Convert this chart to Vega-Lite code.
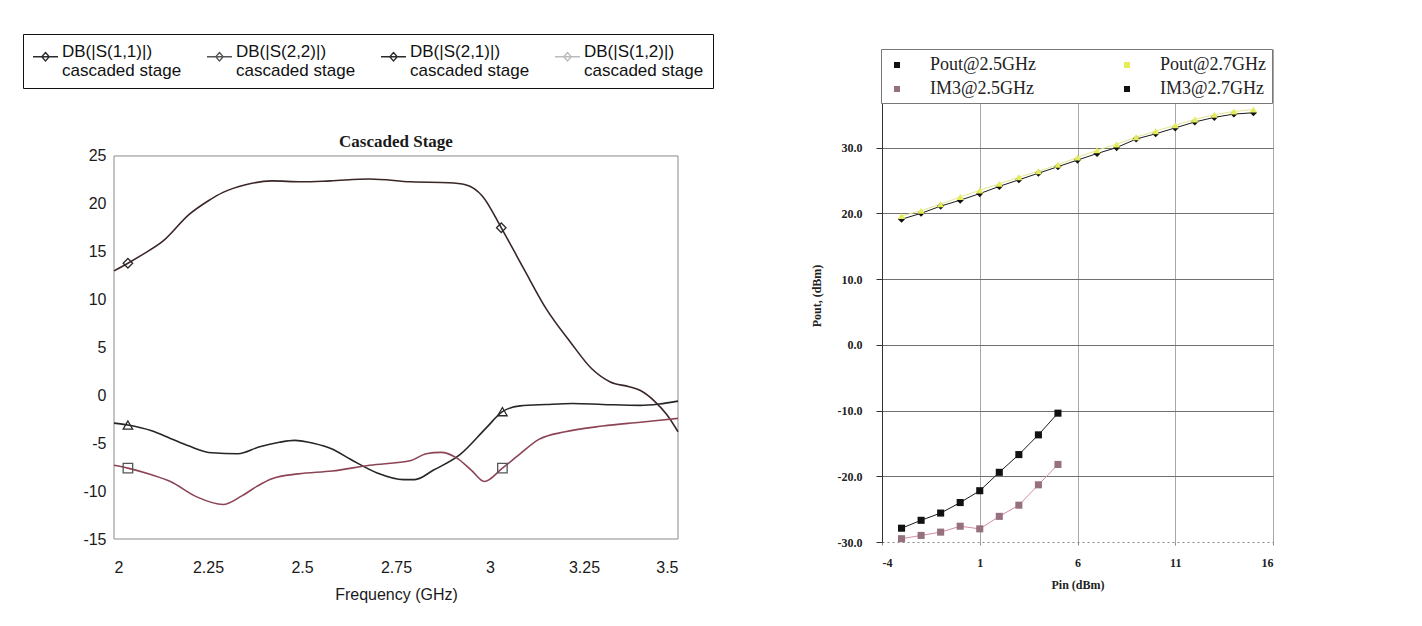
{
  "$schema": "https://vega.github.io/schema/vega-lite/v6.json",
  "background": "white",
  "padding": {"left": 22, "top": 33, "right": 5, "bottom": 5},
  "spacing": 128,
  "resolve": {
    "scale": {"color": "independent", "shape": "independent"}
  },
  "config": {
    "locale": {"number": {"decimal": ".", "thousands": ",", "grouping": [3], "currency": ["$", ""], "minus": "-"}},
    "view": {"stroke": null}
  },
  "datasets": {
    "frame": [
      {"f": 2, "f2": 3.5, "db": -15, "db2": 25}
    ],
    "sparams": [
      {"series": "DB(|S(2,1)|)", "f": 2.0, "db": 13.0},
      {"series": "DB(|S(2,1)|)", "f": 2.037, "db": 13.8},
      {"series": "DB(|S(2,1)|)", "f": 2.08, "db": 14.8},
      {"series": "DB(|S(2,1)|)", "f": 2.13, "db": 16.1},
      {"series": "DB(|S(2,1)|)", "f": 2.2, "db": 18.9},
      {"series": "DB(|S(2,1)|)", "f": 2.25, "db": 20.3},
      {"series": "DB(|S(2,1)|)", "f": 2.29, "db": 21.2},
      {"series": "DB(|S(2,1)|)", "f": 2.35, "db": 22.0},
      {"series": "DB(|S(2,1)|)", "f": 2.42, "db": 22.4},
      {"series": "DB(|S(2,1)|)", "f": 2.5, "db": 22.3},
      {"series": "DB(|S(2,1)|)", "f": 2.575, "db": 22.4},
      {"series": "DB(|S(2,1)|)", "f": 2.68, "db": 22.6},
      {"series": "DB(|S(2,1)|)", "f": 2.79, "db": 22.3},
      {"series": "DB(|S(2,1)|)", "f": 2.89, "db": 22.2},
      {"series": "DB(|S(2,1)|)", "f": 2.935, "db": 22.0},
      {"series": "DB(|S(2,1)|)", "f": 2.98, "db": 20.8},
      {"series": "DB(|S(2,1)|)", "f": 3.03, "db": 17.5},
      {"series": "DB(|S(2,1)|)", "f": 3.09, "db": 13.2},
      {"series": "DB(|S(2,1)|)", "f": 3.15, "db": 9.0},
      {"series": "DB(|S(2,1)|)", "f": 3.215, "db": 5.5},
      {"series": "DB(|S(2,1)|)", "f": 3.27, "db": 2.8},
      {"series": "DB(|S(2,1)|)", "f": 3.32, "db": 1.4},
      {"series": "DB(|S(2,1)|)", "f": 3.37, "db": 0.9},
      {"series": "DB(|S(2,1)|)", "f": 3.4, "db": 0.5},
      {"series": "DB(|S(2,1)|)", "f": 3.44, "db": -0.7},
      {"series": "DB(|S(2,1)|)", "f": 3.47, "db": -2.0},
      {"series": "DB(|S(2,1)|)", "f": 3.5, "db": -3.8},
      {"series": "DB(|S(1,1)|)", "f": 2.0, "db": -2.9},
      {"series": "DB(|S(1,1)|)", "f": 2.037, "db": -3.1},
      {"series": "DB(|S(1,1)|)", "f": 2.1, "db": -3.7},
      {"series": "DB(|S(1,1)|)", "f": 2.15, "db": -4.5},
      {"series": "DB(|S(1,1)|)", "f": 2.2, "db": -5.3},
      {"series": "DB(|S(1,1)|)", "f": 2.26, "db": -6.0},
      {"series": "DB(|S(1,1)|)", "f": 2.33, "db": -6.1},
      {"series": "DB(|S(1,1)|)", "f": 2.385, "db": -5.4},
      {"series": "DB(|S(1,1)|)", "f": 2.44, "db": -4.9},
      {"series": "DB(|S(1,1)|)", "f": 2.48, "db": -4.7},
      {"series": "DB(|S(1,1)|)", "f": 2.53, "db": -5.0},
      {"series": "DB(|S(1,1)|)", "f": 2.58, "db": -5.6},
      {"series": "DB(|S(1,1)|)", "f": 2.63, "db": -6.7},
      {"series": "DB(|S(1,1)|)", "f": 2.7, "db": -8.1},
      {"series": "DB(|S(1,1)|)", "f": 2.77, "db": -8.8},
      {"series": "DB(|S(1,1)|)", "f": 2.8, "db": -8.8},
      {"series": "DB(|S(1,1)|)", "f": 2.85, "db": -7.8},
      {"series": "DB(|S(1,1)|)", "f": 2.92, "db": -6.2},
      {"series": "DB(|S(1,1)|)", "f": 2.99, "db": -3.4},
      {"series": "DB(|S(1,1)|)", "f": 3.033, "db": -1.7},
      {"series": "DB(|S(1,1)|)", "f": 3.08, "db": -1.1},
      {"series": "DB(|S(1,1)|)", "f": 3.15, "db": -0.95},
      {"series": "DB(|S(1,1)|)", "f": 3.22, "db": -0.85},
      {"series": "DB(|S(1,1)|)", "f": 3.3, "db": -0.95},
      {"series": "DB(|S(1,1)|)", "f": 3.4, "db": -1.05},
      {"series": "DB(|S(1,1)|)", "f": 3.45, "db": -0.9},
      {"series": "DB(|S(1,1)|)", "f": 3.5, "db": -0.6},
      {"series": "DB(|S(2,2)|)", "f": 2.0, "db": -7.3},
      {"series": "DB(|S(2,2)|)", "f": 2.037, "db": -7.6},
      {"series": "DB(|S(2,2)|)", "f": 2.1, "db": -8.3},
      {"series": "DB(|S(2,2)|)", "f": 2.15, "db": -9.0},
      {"series": "DB(|S(2,2)|)", "f": 2.22, "db": -10.6},
      {"series": "DB(|S(2,2)|)", "f": 2.29, "db": -11.4},
      {"series": "DB(|S(2,2)|)", "f": 2.34, "db": -10.5},
      {"series": "DB(|S(2,2)|)", "f": 2.38, "db": -9.5},
      {"series": "DB(|S(2,2)|)", "f": 2.42, "db": -8.7},
      {"series": "DB(|S(2,2)|)", "f": 2.49, "db": -8.2},
      {"series": "DB(|S(2,2)|)", "f": 2.58, "db": -7.9},
      {"series": "DB(|S(2,2)|)", "f": 2.68, "db": -7.3},
      {"series": "DB(|S(2,2)|)", "f": 2.79, "db": -6.8},
      {"series": "DB(|S(2,2)|)", "f": 2.83, "db": -6.1},
      {"series": "DB(|S(2,2)|)", "f": 2.87, "db": -5.95},
      {"series": "DB(|S(2,2)|)", "f": 2.91, "db": -6.5},
      {"series": "DB(|S(2,2)|)", "f": 2.95, "db": -7.8},
      {"series": "DB(|S(2,2)|)", "f": 2.985, "db": -9.0},
      {"series": "DB(|S(2,2)|)", "f": 3.033, "db": -7.6},
      {"series": "DB(|S(2,2)|)", "f": 3.08, "db": -6.1},
      {"series": "DB(|S(2,2)|)", "f": 3.13, "db": -4.6},
      {"series": "DB(|S(2,2)|)", "f": 3.2, "db": -3.8},
      {"series": "DB(|S(2,2)|)", "f": 3.3, "db": -3.2},
      {"series": "DB(|S(2,2)|)", "f": 3.4, "db": -2.8},
      {"series": "DB(|S(2,2)|)", "f": 3.5, "db": -2.4}
    ],
    "smarkers": [
      {"series": "DB(|S(1,1)|)", "f": 2.037, "db": -3.1},
      {"series": "DB(|S(1,1)|)", "f": 3.033, "db": -1.7},
      {"series": "DB(|S(2,2)|)", "f": 2.037, "db": -7.6},
      {"series": "DB(|S(2,2)|)", "f": 3.033, "db": -7.6},
      {"series": "DB(|S(2,1)|)", "f": 2.037, "db": 13.8},
      {"series": "DB(|S(2,1)|)", "f": 3.03, "db": 17.5}
    ],
    "power": [
      {"series": "Pout@2.5GHz", "pin": -3, "pout": 19.1},
      {"series": "Pout@2.5GHz", "pin": -2, "pout": 20.0},
      {"series": "Pout@2.5GHz", "pin": -1, "pout": 21.1},
      {"series": "Pout@2.5GHz", "pin": 0, "pout": 22.0},
      {"series": "Pout@2.5GHz", "pin": 1, "pout": 23.0},
      {"series": "Pout@2.5GHz", "pin": 2, "pout": 24.1},
      {"series": "Pout@2.5GHz", "pin": 3, "pout": 25.1},
      {"series": "Pout@2.5GHz", "pin": 4, "pout": 26.1},
      {"series": "Pout@2.5GHz", "pin": 5, "pout": 27.1},
      {"series": "Pout@2.5GHz", "pin": 6, "pout": 28.1},
      {"series": "Pout@2.5GHz", "pin": 7, "pout": 29.1},
      {"series": "Pout@2.5GHz", "pin": 8, "pout": 30.0},
      {"series": "Pout@2.5GHz", "pin": 9, "pout": 31.3},
      {"series": "Pout@2.5GHz", "pin": 10, "pout": 32.1},
      {"series": "Pout@2.5GHz", "pin": 11, "pout": 33.0},
      {"series": "Pout@2.5GHz", "pin": 12, "pout": 33.9},
      {"series": "Pout@2.5GHz", "pin": 13, "pout": 34.6},
      {"series": "Pout@2.5GHz", "pin": 14, "pout": 35.1},
      {"series": "Pout@2.5GHz", "pin": 15, "pout": 35.3},
      {"series": "Pout@2.7GHz", "pin": -3, "pout": 19.6},
      {"series": "Pout@2.7GHz", "pin": -2, "pout": 20.4},
      {"series": "Pout@2.7GHz", "pin": -1, "pout": 21.4},
      {"series": "Pout@2.7GHz", "pin": 0, "pout": 22.5},
      {"series": "Pout@2.7GHz", "pin": 1, "pout": 23.5},
      {"series": "Pout@2.7GHz", "pin": 2, "pout": 24.5},
      {"series": "Pout@2.7GHz", "pin": 3, "pout": 25.5},
      {"series": "Pout@2.7GHz", "pin": 4, "pout": 26.4},
      {"series": "Pout@2.7GHz", "pin": 5, "pout": 27.4},
      {"series": "Pout@2.7GHz", "pin": 6, "pout": 28.5},
      {"series": "Pout@2.7GHz", "pin": 7, "pout": 29.6},
      {"series": "Pout@2.7GHz", "pin": 8, "pout": 30.5},
      {"series": "Pout@2.7GHz", "pin": 9, "pout": 31.6},
      {"series": "Pout@2.7GHz", "pin": 10, "pout": 32.5},
      {"series": "Pout@2.7GHz", "pin": 11, "pout": 33.4},
      {"series": "Pout@2.7GHz", "pin": 12, "pout": 34.3},
      {"series": "Pout@2.7GHz", "pin": 13, "pout": 35.0},
      {"series": "Pout@2.7GHz", "pin": 14, "pout": 35.5},
      {"series": "Pout@2.7GHz", "pin": 15, "pout": 35.8},
      {"series": "IM3@2.5GHz", "pin": -3, "pout": -29.5},
      {"series": "IM3@2.5GHz", "pin": -2, "pout": -29.0},
      {"series": "IM3@2.5GHz", "pin": -1, "pout": -28.5},
      {"series": "IM3@2.5GHz", "pin": 0, "pout": -27.6},
      {"series": "IM3@2.5GHz", "pin": 1, "pout": -28.0},
      {"series": "IM3@2.5GHz", "pin": 2, "pout": -26.1},
      {"series": "IM3@2.5GHz", "pin": 3, "pout": -24.4},
      {"series": "IM3@2.5GHz", "pin": 4, "pout": -21.3},
      {"series": "IM3@2.5GHz", "pin": 5, "pout": -18.2},
      {"series": "IM3@2.7GHz", "pin": -3, "pout": -27.9},
      {"series": "IM3@2.7GHz", "pin": -2, "pout": -26.7},
      {"series": "IM3@2.7GHz", "pin": -1, "pout": -25.6},
      {"series": "IM3@2.7GHz", "pin": 0, "pout": -24.0},
      {"series": "IM3@2.7GHz", "pin": 1, "pout": -22.2},
      {"series": "IM3@2.7GHz", "pin": 2, "pout": -19.4},
      {"series": "IM3@2.7GHz", "pin": 3, "pout": -16.7},
      {"series": "IM3@2.7GHz", "pin": 4, "pout": -13.7},
      {"series": "IM3@2.7GHz", "pin": 5, "pout": -10.4}
    ]
  },
  "hconcat": [
    {
      "width": 564,
      "height": 490,
      "title": {"text": "Cascaded Stage", "font": "Liberation Serif", "fontWeight": "bold", "fontSize": 17, "offset": -102, "color": "#1a1a1a"},
      "layer": [
        {
          "data": {"name": "frame"},
          "mark": {"type": "rect", "fill": "transparent", "stroke": "#8a8a8a", "strokeWidth": 1},
          "encoding": {
            "x": {"field": "f", "type": "quantitative", "scale": {"domain": [2, 3.5], "nice": false, "zero": false}},
            "x2": {"field": "f2"},
            "y": {"field": "db", "type": "quantitative", "scale": {"domain": [-15, 36.17], "nice": false, "zero": false}},
            "y2": {"field": "db2"}
          }
        },
        {
          "data": {"name": "sparams"},
          "mark": {"type": "line", "interpolate": "monotone", "strokeWidth": 1.6},
          "encoding": {
            "x": {"field": "f", "type": "quantitative", "scale": {"domain": [2, 3.5], "nice": false, "zero": false},
              "axis": {"values": [2, 2.25, 2.5, 2.75, 3, 3.25, 3.5], "labelExpr": "datum.value", "grid": false, "ticks": false, "domain": false,
                "labelFont": "Liberation Sans", "labelFontSize": 16, "labelColor": "#1a1a1a", "labelPadding": 20,
                "title": "Frequency (GHz)", "titleFont": "Liberation Sans", "titleFontSize": 16, "titleFontWeight": "normal", "titleColor": "#1a1a1a", "titlePadding": 11}},
            "y": {"field": "db", "type": "quantitative", "scale": {"domain": [-15, 36.17], "nice": false, "zero": false},
              "axis": {"values": [-15, -10, -5, 0, 5, 10, 15, 20, 25], "format": "d", "grid": false, "ticks": false, "domain": false,
                "labelFont": "Liberation Sans", "labelFontSize": 16, "labelColor": "#1a1a1a", "labelPadding": 8, "title": null}},
            "color": {"field": "series", "type": "nominal",
              "scale": {"domain": ["DB(|S(1,1)|)", "DB(|S(2,2)|)", "DB(|S(2,1)|)", "DB(|S(1,2)|)"], "range": ["#262626", "#8c4455", "#3a2626", "#bbbbbb"]},
              "legend": null}
          }
        },
        {
          "data": {"name": "smarkers"},
          "mark": {"type": "point", "filled": false, "strokeWidth": 1.3, "size": 90, "opacity": 1},
          "encoding": {
            "x": {"field": "f", "type": "quantitative"},
            "y": {"field": "db", "type": "quantitative"},
            "shape": {"field": "series", "type": "nominal",
              "scale": {"domain": ["DB(|S(1,1)|)", "DB(|S(2,2)|)", "DB(|S(2,1)|)", "DB(|S(1,2)|)"], "range": ["triangle-up", "square", "diamond", "triangle-right"]},
              "legend": null},
            "stroke": {"field": "series", "type": "nominal",
              "scale": {"domain": ["DB(|S(1,1)|)", "DB(|S(2,2)|)", "DB(|S(2,1)|)", "DB(|S(1,2)|)"], "range": ["#2a2a2a", "#555555", "#2a2a2a", "#bbbbbb"]},
              "legend": {"orient": "none", "legendX": -91, "legendY": -15, "direction": "horizontal", "columns": 4, "title": null,
                "strokeColor": "#111", "fillColor": "#fff", "padding": 9, "columnPadding": 22,
                "labelFont": "Liberation Sans", "labelFontSize": 17, "labelColor": "#111", "labelLimit": 300, "labelOffset": 3,
                "labelExpr": "[datum.label, 'cascaded stage']", "labelBaseline": "alphabetic",
                "symbolType": "M-1,0H1M0,-0.34L0.3,0L0,0.34L-0.3,0Z",
                "symbolSize": 625, "symbolStrokeWidth": 1.3}}
          }
        }
      ]
    },
    {
      "width": 391,
      "height": 493,
      "layer": [
        {
          "data": {"name": "power"},
          "mark": {"type": "line", "strokeWidth": 1},
          "encoding": {
            "x": {"field": "pin", "type": "quantitative", "scale": {"domain": [-4, 16], "nice": false, "zero": false},
              "axis": {"values": [-4, 1, 6, 11, 16], "format": "d", "grid": true, "gridColor": "#a8a8a8", "gridWidth": 1,
                "domainColor": "#888", "domainDash": [2, 3], "ticks": true, "tickSize": 3, "tickColor": "#888",
                "labelFont": "Liberation Serif", "labelFontWeight": "bold", "labelFontSize": 12, "labelColor": "#222", "labelPadding": 12,
                "title": "Pin (dBm)", "titleFont": "Liberation Serif", "titleFontWeight": "bold", "titleFontSize": 12, "titleColor": "#222", "titlePadding": 11}},
            "y": {"field": "pout", "type": "quantitative", "scale": {"domain": [-30, 45], "nice": false, "zero": false},
              "axis": {"values": [-30, -20, -10, 0, 10, 20, 30], "format": ".1f", "grid": true,
                "gridColor": {"condition": {"test": "datum.value === -30", "value": "transparent"}, "value": "#707070"}, "gridWidth": 1,
                "domainColor": "#333", "ticks": true, "tickSize": 6, "tickColor": "#333",
                "labelFont": "Liberation Serif", "labelFontWeight": "bold", "labelFontSize": 12, "labelColor": "#222", "labelPadding": 14,
                "title": "Pout, (dBm)", "titleFont": "Liberation Serif", "titleFontWeight": "bold", "titleFontSize": 12, "titleColor": "#222", "titlePadding": 14}},
            "color": {"field": "series", "type": "nominal",
              "scale": {"domain": ["Pout@2.5GHz", "Pout@2.7GHz", "IM3@2.5GHz", "IM3@2.7GHz"], "range": ["#1a1a1a", "#e2e890", "#d38aa6", "#1a1a1a"]},
              "legend": null}
          }
        },
        {
          "data": {"name": "power"},
          "mark": {"type": "point", "filled": true, "size": 50, "opacity": 1},
          "encoding": {
            "x": {"field": "pin", "type": "quantitative"},
            "y": {"field": "pout", "type": "quantitative"},
            "shape": {"field": "series", "type": "nominal",
              "scale": {"domain": ["Pout@2.5GHz", "Pout@2.7GHz", "IM3@2.5GHz", "IM3@2.7GHz"], "range": ["diamond", "triangle-up", "square", "square"]},
              "legend": null},
            "fill": {"field": "series", "type": "nominal",
              "scale": {"domain": ["Pout@2.5GHz", "Pout@2.7GHz", "IM3@2.5GHz", "IM3@2.7GHz"], "range": ["#111111", "#e4ec58", "#96707f", "#111111"]},
              "legend": {"orient": "none", "legendX": 767, "legendY": 0, "direction": "horizontal", "columns": 2, "title": null,
                "strokeColor": "#777", "fillColor": "#fff", "padding": 5, "columnPadding": 79, "rowPadding": 4,
                "labelFont": "Liberation Serif", "labelFontSize": 18, "labelColor": "#222", "labelOffset": 22,
                "symbolType": "M-0.3,-0.3H0.3V0.3H-0.3Z",
                "symbolSize": 400}}
          }
        }
      ]
    }
  ]
}
